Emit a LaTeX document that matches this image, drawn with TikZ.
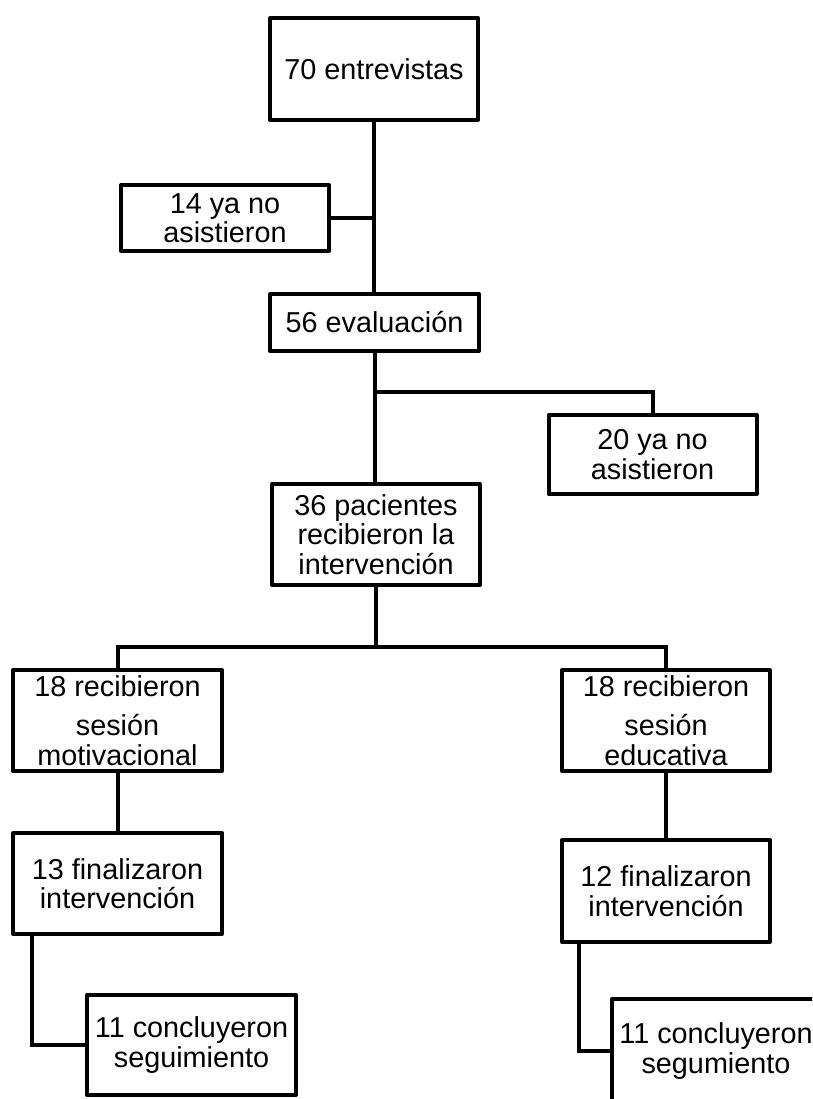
\documentclass[tikz,border=0pt]{standalone}
\usepackage{fontspec}
\setmainfont{Liberation Sans}
\begin{document}
\begin{tikzpicture}[x=1pt,y=-1pt,
  box/.style={draw, line width=4pt, line join=round, inner sep=0pt, align=center,
    font=\fontsize{28.8}{29.5}\selectfont, minimum width=208pt},
  conn/.style={line width=4pt}]
\useasboundingbox (0,0) rectangle (812,1099);
\clip (0,0) rectangle (812,1099);
\node[box, minimum height=102pt] (b70) at (374,69) {70 entrevistas};
\node[box, minimum height=66pt] (b14) at (225,218) {14 ya no\\asistieron};
\node[box, minimum width=209pt, minimum height=57pt] (b56) at (374.5,322.5) {56 evaluación};
\node[box, minimum height=79pt] (b20) at (652.5,454.5) {20 ya no\\asistieron};
\node[box, minimum height=101pt] (b36) at (376,534.5) {36 pacientes\\recibieron la\\intervención};
\node[box, minimum width=209pt, minimum height=101pt] (b18a) at (117.5,720.5) {18 recibieron\\[10pt]sesión\\motivacional};
\node[box, minimum height=101pt] (b18b) at (666,720.5) {18 recibieron\\[10pt]sesión\\educativa};
\node[box, minimum width=209pt, minimum height=101pt] (b13) at (117.5,883.5) {13 finalizaron\\intervención};
\node[box, minimum height=102pt] (b12) at (666,891) {12 finalizaron\\intervención};
\node[box, minimum width=209pt, minimum height=100pt] (b11a) at (191.5,1045) {11 concluyeron\\seguimiento};
\node[box, minimum height=104pt] (b11b) at (716,1051) {11 concluyeron\\segumiento};
\coordinate (j1) at (376,392);
\coordinate (j2) at (376,647);
\draw[conn] (b70.south) -- (b70.south |- b56.north);
\draw[conn] (b14.east) -- (b14.east -| b70.south);
\draw[conn] (b56.south) -- (b56.south |- b36.north);
\draw[conn] (j1) -| (b20.north);
\draw[conn] (b36.south) -- (j2);
\draw[conn] (b18a.north) |- (j2) -| (b18b.north);
\draw[conn] (b18a.south) -- (b13.north);
\draw[conn] (b18b.south) -- (b12.north);
\draw[conn] ([xshift=21pt]b13.south west) |- (b11a.west);
\draw[conn] ([xshift=19pt]b12.south west) |- (b11b.west);
\end{tikzpicture}
\end{document}
